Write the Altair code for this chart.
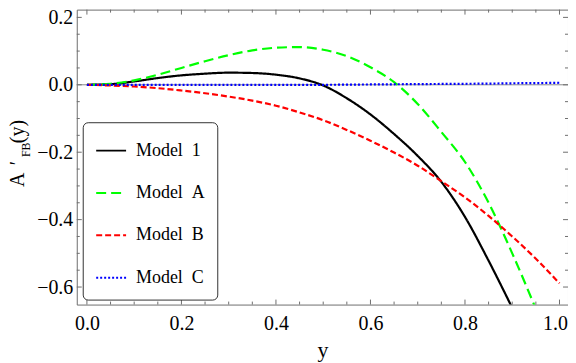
import altair as alt
import pandas as pd

# ---- data ----
x_vals = [0.00, 0.05, 0.10, 0.15, 0.20, 0.25, 0.30, 0.35, 0.40, 0.45, 0.50,
          0.55, 0.60, 0.65, 0.70, 0.75, 0.80, 0.85, 0.90, 0.95, 1.00]
model_1 = [0.000, 0.002, 0.010, 0.020, 0.028, 0.033, 0.036, 0.035, 0.030, 0.019, -0.002,
           -0.040, -0.088, -0.146, -0.211, -0.288, -0.392, -0.522, -0.662, None, None]
model_a = [0.000, 0.003, 0.013, 0.030, 0.050, 0.070, 0.088, 0.102, 0.110, 0.112, 0.104,
           0.085, 0.052, 0.008, -0.057, -0.140, -0.229, -0.350, -0.500, -0.665, None]
model_b = [0.000, -0.002, -0.005, -0.010, -0.017, -0.025, -0.035, -0.047, -0.062, -0.082, -0.105,
           -0.134, -0.166, -0.201, -0.240, -0.286, -0.334, -0.389, -0.450, -0.516, -0.589]
model_c = [0.000, 0.000, 0.000, 0.000, 0.000, 0.000, 0.000, 0.000, 0.000, 0.000, 0.000,
           0.0005, 0.001, 0.0015, 0.002, 0.0025, 0.003, 0.0035, 0.0045, 0.005, 0.006]

series_names = ["Model 1", "Model A", "Model B", "Model C"]
series_values = [model_1, model_a, model_b, model_c]
series_colors = ["#000000", "#00ff00", "#ff0000", "#0000ff"]
series_dashes = [[1, 0], [10, 5], [6, 3], [2, 2]]

x_major = [0.0, 0.2, 0.4, 0.6, 0.8, 1.0]
x_minor = [0.05, 0.1, 0.15, 0.25, 0.3, 0.35, 0.45, 0.5, 0.55, 0.65, 0.7, 0.75, 0.85, 0.9, 0.95]
y_major = [-0.6, -0.4, -0.2, 0.0, 0.2]
y_minor = [-0.55, -0.5, -0.45, -0.35, -0.3, -0.25, -0.15, -0.1, -0.05, 0.05, 0.1, 0.15]

x_domain = [-0.0215, 1.018]
y_domain = [-0.652, 0.223]

FONT = "Liberation Serif"
FRAME = "#6e6e6e"
W, H = 493, 296

rows = []
for name, vals in zip(series_names, series_values):
    for xv, yv in zip(x_vals, vals):
        if yv is not None:
            rows.append({"x": xv, "v": yv, "series": name})
df = pd.DataFrame(rows)

xs = alt.Scale(domain=x_domain, nice=False, zero=False)
ys = alt.Scale(domain=y_domain, nice=False, zero=False)

xa = alt.Axis(
    values=x_major, format=".1f", ticks=False, domain=False, grid=False,
    labelFont=FONT, labelFontSize=20, labelColor="black", labelPadding=9,
    labelFlush=9, labelFlushOffset=8, title="y", titleFont=FONT, titleFontSize=22,
    titleFontWeight="normal", titleColor="black", titlePadding=6)
ya = alt.Axis(
    values=y_major, format=".1f", ticks=False, domain=False, grid=False,
    labelFont=FONT, labelFontSize=20, labelColor="black", labelPadding=4,
    labelFlush=False, title=None)

legend = alt.Legend(
    title=None, orient="none", legendX=6, legendY=113,
    symbolType="stroke", symbolSize=900, symbolStrokeWidth=2,
    labelFont=FONT, labelFontSize=18, labelColor="black", labelOffset=9,
    labelBaseline="middle",
    labelExpr="datum.label == 'Model A' ? '\u2002' + replace(datum.label, ' ', '\u2002') : replace(datum.label, ' ', '\u2002')",
    rowPadding=17.5, padding=12.5, fillColor="white", strokeColor="#333333",
    cornerRadius=5,
)

zero = alt.Chart(pd.DataFrame({"v": [0.0]})).mark_rule(color="#8a8a8a", strokeWidth=1).encode(
    y=alt.Y("v:Q", scale=ys, axis=ya)
)

lines = alt.Chart(df).mark_line(clip=True, strokeWidth=2.2, strokeCap="butt",
                                interpolate="monotone").encode(
    x=alt.X("x:Q", scale=xs, axis=xa),
    y=alt.Y("v:Q", scale=ys, axis=ya),
    color=alt.Color("series:N", scale=alt.Scale(domain=series_names, range=series_colors), legend=legend),
    strokeDash=alt.StrokeDash("series:N", scale=alt.Scale(domain=series_names, range=series_dashes), legend=legend),
    order=alt.Order("x:Q"),
)


def xticks(vals, length, bottom):
    return alt.Chart(pd.DataFrame({"x": vals})).mark_rule(color=FRAME, strokeWidth=1).encode(
        x=alt.X("x:Q", scale=xs, axis=xa),
        y=alt.value(H if bottom else 0),
        y2=alt.value(H - length if bottom else length),
    )


def yticks(vals, length, left):
    return alt.Chart(pd.DataFrame({"v": vals})).mark_rule(color=FRAME, strokeWidth=1).encode(
        y=alt.Y("v:Q", scale=ys, axis=ya),
        x=alt.value(0 if left else W),
        x2=alt.value(length if left else W - length),
    )


ticks = [
    xticks(x_major, 5, True), xticks(x_minor, 3, True),
    xticks(x_major, 5, False), xticks(x_minor, 3, False),
    yticks(y_major, 5, True), yticks(y_minor, 3, True),
    yticks(y_major, 5, False), yticks(y_minor, 3, False),
]


def label(txt, x, y, size, align="left"):
    return alt.Chart(pd.DataFrame({"s": [txt]})).mark_text(
        angle=270, align=align, baseline="alphabetic", font=FONT, fontSize=size, color="black"
    ).encode(x=alt.value(x), y=alt.value(y), text="s:N")


ytitle = [
    label("A", -53, 178, 20),
    label("\u2032", -53, 154, 20, "center"),
    label("FB", -47, 148, 12),
    label("(y)", -53, 134, 20),
]

chart = alt.layer(zero, lines, *ticks, *ytitle).properties(
    width=W, height=H,
    autosize=alt.AutoSizeParams(type="none"),
    padding={"left": 69, "top": 1, "right": 0, "bottom": 57},
).configure_view(stroke=FRAME, strokeWidth=1)

chart.save("out.html", embed_options={"renderer": "svg", "actions": False})
